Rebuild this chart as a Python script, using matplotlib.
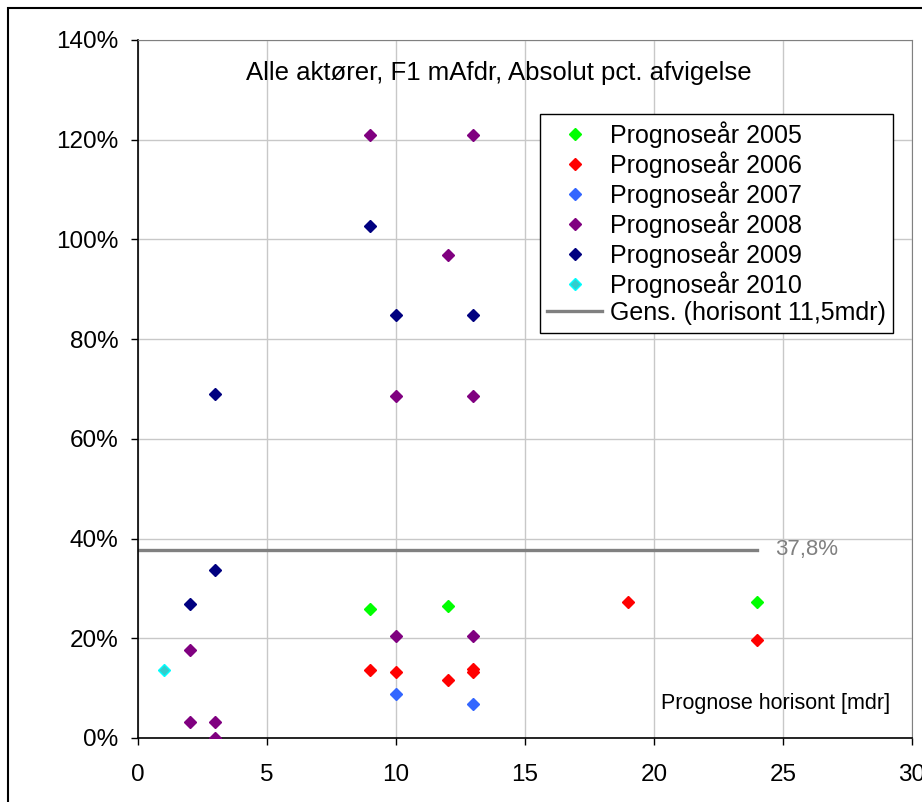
import matplotlib.pyplot as plt
from matplotlib.patches import Rectangle
from matplotlib.ticker import FuncFormatter

plt.rcParams['font.family'] = ['Liberation Sans', 'DejaVu Sans']

# horizon (months) and absolute pct. deviation per forecast year
x2005 = [9, 12, 24]
y2005 = [25.9, 26.4, 27.2]
x2006 = [9, 10, 12, 13, 13, 19, 24]
y2006 = [13.6, 13.2, 11.6, 13.3, 13.8, 27.2, 19.7]
x2007 = [10, 13]
y2007 = [8.9, 6.8]
x2008 = [2, 2, 3, 3, 9, 10, 10, 12, 13, 13, 13]
y2008 = [17.7, 3.3, 3.3, 0.0, 121.0, 20.4, 68.5, 96.9, 121.0, 20.4, 68.5]
x2009 = [2, 3, 3, 9, 10, 13]
y2009 = [26.8, 33.6, 68.9, 102.6, 84.9, 84.9]
x2010 = [1]
y2010 = [13.6]

mean_val = 37.8
mean_x = [0, 24]

series = [
    ("Prognoseår 2005", x2005, y2005, "#00FF00", "#00FF00"),
    ("Prognoseår 2006", x2006, y2006, "#FF0000", "#FF0000"),
    ("Prognoseår 2007", x2007, y2007, "#3366FF", "#3366FF"),
    ("Prognoseår 2008", x2008, y2008, "#800080", "#800080"),
    ("Prognoseår 2009", x2009, y2009, "#000080", "#000080"),
    ("Prognoseår 2010", x2010, y2010, "#33CCCC", "#00FFFF"),
]

fig = plt.figure(figsize=(9.22, 8.02), dpi=100)
ax = fig.add_axes([138/922, 1 - 738/802, 774/922, 698/802])

for label, xs, ys, fc, ec in series:
    ax.plot(xs, ys, linestyle="none", marker="D", markersize=6.5,
            markerfacecolor=fc, markeredgecolor=ec, markeredgewidth=1,
            label=label, zorder=3)

ax.plot(mean_x, [mean_val, mean_val], color="#808080", linewidth=2.4,
        label="Gens. (horisont 11,5mdr)", zorder=2)
ax.text(24.7, mean_val, "37,8%", color="#808080", fontsize=16,
        va="center", ha="left")

ax.set_xlim(0, 30)
ax.set_ylim(0, 140)
ax.set_xticks(range(0, 31, 5))
ax.set_yticks(range(0, 141, 20))
ax.yaxis.set_major_formatter(FuncFormatter(lambda v, p: f"{v:.0f}%"))
ax.tick_params(labelsize=17.5, direction="out", length=5, width=1)
ax.tick_params(axis="y", pad=9)
ax.tick_params(axis="x", pad=14)
ax.grid(color="#C8C8C8", linewidth=1)
ax.set_axisbelow(True)
for s in ["top", "right"]:
    ax.spines[s].set_color("#808080")
ax.spines["left"].set_linewidth(1.2)
ax.spines["bottom"].set_linewidth(1.2)

ax.text(0.466, 0.953, "Alle aktører, F1 mAfdr, Absolut pct. afvigelse",
        transform=ax.transAxes, ha="center", va="center", fontsize=18.5)
ax.text(0.972, 0.049, "Prognose horisont [mdr]", transform=ax.transAxes,
        ha="right", va="center", fontsize=15.5)

leg = ax.legend(loc="upper left", bbox_to_anchor=(0.519, 0.894), fontsize=18,
                fancybox=False, framealpha=1, edgecolor="black",
                handlelength=2.2, handletextpad=0.3, labelspacing=0.13,
                borderpad=0.3, borderaxespad=0)
leg.get_frame().set_linewidth(1)

fig.patches.append(Rectangle((8/922, -0.1), 1.2, 1 - 8/802 + 0.1,
                             transform=fig.transFigure, fill=False,
                             edgecolor="black", linewidth=1.5))

fig.savefig("out.png", dpi=100)
